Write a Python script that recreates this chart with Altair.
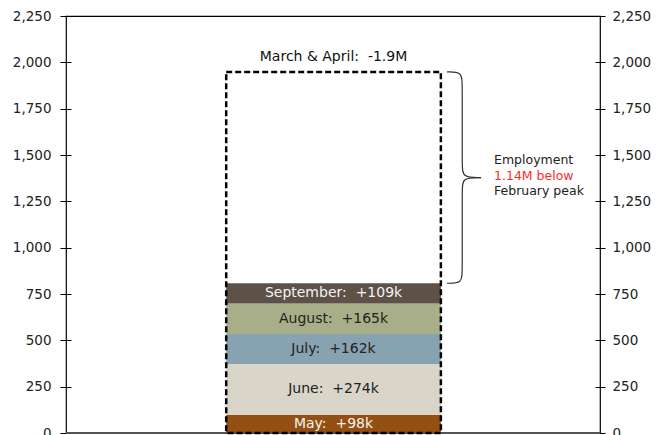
import altair as alt
import pandas as pd

# ---- data ----
months = ["May", "June", "July", "August", "September"]
gains_k = [98, 274, 162, 165, 109]
bar_labels = ["May:\u00a0 +98k", "June:\u00a0 +274k", "July:\u00a0 +162k",
              "August:\u00a0 +165k", "September:\u00a0 +109k"]
bar_colors = ["#944F12", "#D9D5C9", "#87A2B1", "#A8AF88", "#5E5147"]
label_colors = ["#F4F4F4", "#222222", "#222222", "#222222", "#F4F4F4"]
shortfall_k = 1140                      # "1.14M below February peak"
loss_label = "March & April:\u00a0 -1.9M"
note_lines = ["Employment", "1.14M below", "February peak"]
note_colors = ["#222222", "#FF2A2A", "#222222"]
y_ticks = [0, 250, 500, 750, 1000, 1250, 1500, 1750, 2000, 2250]

FONT = "DejaVu Sans"
X0, X1 = 0.3, 0.702
XC = (X0 + X1) / 2

# ---- derived tables ----
starts, ends, acc = [], [], 0
for g in gains_k:
    starts.append(acc)
    acc += g
    ends.append(acc)
recovered = acc
box_top = recovered + shortfall_k
mid = (recovered + box_top) / 2

bars = pd.DataFrame({
    "month": months, "start": starts, "end": ends,
    "mid": [(s + e) / 2 for s, e in zip(starts, ends)],
    "label": bar_labels, "lcolor": label_colors,
    "x0": [X0] * 5, "x1": [X1] * 5, "xc": [XC] * 5,
})

yscale = alt.Scale(domain=[0, 2250], nice=False, zero=True)
xscale = alt.Scale(domain=[0, 1])

left_axis = alt.Axis(orient="left", values=y_ticks, format=",d", grid=False, domain=False,
                     offset=-5, tickSize=11, tickColor="black", labelPadding=9,
                     labelFont=FONT, labelFontSize=13.5, labelColor="#222222", title=None)
right_axis = alt.Axis(orient="right", values=y_ticks, format=",d", grid=False, domain=False,
                      offset=-5, tickSize=10, tickColor="black", labelPadding=7,
                      labelFont=FONT, labelFontSize=13.5, labelColor="#222222", title=None)

seg = alt.Chart(bars).mark_rect().encode(
    x=alt.X("x0:Q", scale=xscale, axis=None),
    x2="x1:Q",
    y=alt.Y("start:Q", scale=yscale, axis=left_axis),
    y2="end:Q",
    color=alt.Color("month:N", scale=alt.Scale(domain=months, range=bar_colors), legend=None),
)

seg_text = alt.Chart(bars).mark_text(font=FONT, fontSize=14, baseline="middle").encode(
    x=alt.X("xc:Q", scale=xscale, axis=None),
    y=alt.Y("mid:Q", scale=yscale, axis=None),
    text="label:N",
    color=alt.Color("lcolor:N", scale=None),
)

box_df = pd.DataFrame({"y": [0], "y2": [box_top], "label": [loss_label],
                       "x0": [X0], "x1": [X1], "xc": [XC]})
box = alt.Chart(box_df).mark_rect(filled=False, stroke="black", strokeWidth=2.5,
                                  strokeDash=[6, 3]).encode(
    x=alt.X("x0:Q", scale=xscale, axis=None),
    x2="x1:Q",
    y=alt.Y("y:Q", scale=yscale, axis=right_axis),
    y2="y2:Q",
)
box_text = alt.Chart(box_df).mark_text(font=FONT, fontSize=14, dy=-15, color="#111111").encode(
    x=alt.X("xc:Q", scale=xscale, axis=None),
    y=alt.Y("y2:Q", scale=yscale, axis=None),
    text="label:N",
)

baseline = alt.Chart(pd.DataFrame({"y": [0]})).mark_rule(color="#555555", strokeWidth=2).encode(
    y=alt.Y("y:Q", scale=yscale, axis=None),
)

# curly brace spanning the gap between recovered level and February peak
bx0, bx1, btip = 0.7135, 0.742, 0.777
r = 65
brace_pts = [
    (bx0, box_top, "u", 0), (bx1, box_top, "u", 1), (bx1, box_top - r, "u", 2),
    (bx1, mid + r, "u", 3), (bx1, mid, "u", 4), (btip, mid, "u", 5),
    (bx0, recovered, "l", 0), (bx1, recovered, "l", 1), (bx1, recovered + r, "l", 2),
    (bx1, mid - r, "l", 3), (bx1, mid, "l", 4), (btip, mid, "l", 5),
]
brace_df = pd.DataFrame(brace_pts, columns=["x", "y", "half", "o"])
brace = alt.Chart(brace_df).mark_line(interpolate="basis", color="#333333", strokeWidth=1.2).encode(
    x=alt.X("x:Q", scale=xscale, axis=None),
    y=alt.Y("y:Q", scale=yscale, axis=None),
    detail="half:N",
    order="o:Q",
)

notes = []
for i, (t, c) in enumerate(zip(note_lines, note_colors)):
    notes.append(
        alt.Chart(pd.DataFrame({"text": [t], "y": [mid], "x": [0.8015]})).mark_text(
            font=FONT, fontSize=12.5, align="left", baseline="middle", color=c, dy=(i - 1) * 15.5 - 2
        ).encode(
            x=alt.X("x:Q", scale=xscale, axis=None),
            y=alt.Y("y:Q", scale=yscale, axis=None),
            text="text:N",
        )
    )

chart = alt.layer(seg, seg_text, baseline, box, box_text, brace, *notes).resolve_scale(
    y="independent"
).properties(
    width=534, height=417,
    autosize=alt.AutoSizeParams(type="none"),
    padding={"left": 58, "top": 8, "right": 51, "bottom": 12},
).configure_view(stroke="black", strokeWidth=1.2)

chart.save("out.html", embed_options={"renderer": "svg", "actions": False})
